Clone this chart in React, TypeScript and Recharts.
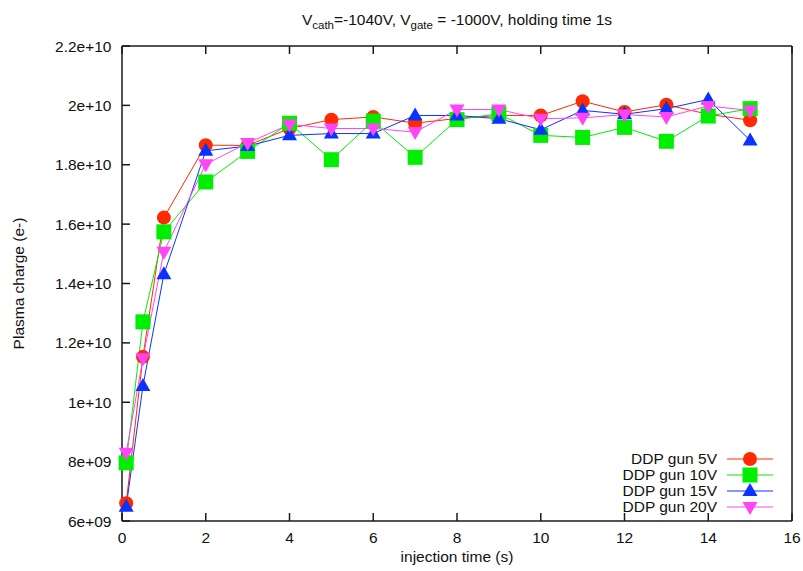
import React from 'react';
import { LineChart, Line, XAxis, YAxis, Legend } from 'recharts';

const times = [0.1, 0.5, 1, 2, 3, 4, 5, 6, 7, 8, 9, 10, 11, 12, 13, 14, 15];
const gun5V = [6.60e9, 1.153e10, 1.622e10, 1.866e10, 1.865e10, 1.922e10, 1.952e10, 1.961e10, 1.940e10, 1.956e10, 1.966e10, 1.966e10, 2.014e10, 1.978e10, 2.002e10, 1.970e10, 1.950e10];
const gun10V = [7.96e9, 1.271e10, 1.574e10, 1.742e10, 1.845e10, 1.940e10, 1.817e10, 1.947e10, 1.825e10, 1.952e10, 1.972e10, 1.899e10, 1.892e10, 1.926e10, 1.879e10, 1.964e10, 1.989e10];
const gun15V = [6.48e9, 1.055e10, 1.431e10, 1.847e10, 1.863e10, 1.899e10, 1.905e10, 1.905e10, 1.966e10, 1.966e10, 1.955e10, 1.918e10, 1.983e10, 1.970e10, 1.989e10, 2.020e10, 1.882e10];
const gun20V = [8.30e9, 1.148e10, 1.507e10, 1.802e10, 1.873e10, 1.936e10, 1.922e10, 1.922e10, 1.910e10, 1.986e10, 1.986e10, 1.955e10, 1.958e10, 1.969e10, 1.961e10, 1.998e10, 1.983e10];

const xTicks = [0, 2, 4, 6, 8, 10, 12, 14, 16];
const yTicks = [6e9, 8e9, 1e10, 1.2e10, 1.4e10, 1.6e10, 1.8e10, 2e10, 2.2e10];
const yTickLabels = ['6e+09', '8e+09', '1e+10', '1.2e+10', '1.4e+10', '1.6e+10', '1.8e+10', '2e+10', '2.2e+10'];

const series = [
  { key: 'g5', name: 'DDP gun 5V', color: '#ff2a00', shape: 'circle', values: gun5V },
  { key: 'g10', name: 'DDP gun 10V', color: '#00ee00', shape: 'square', values: gun10V },
  { key: 'g15', name: 'DDP gun 15V', color: '#0a32ff', shape: 'up', values: gun15V },
  { key: 'g20', name: 'DDP gun 20V', color: '#ff45f5', shape: 'down', values: gun20V },
];

const data = times.map((t, i) => {
  const row: any = { t };
  series.forEach((s) => { row[s.key] = s.values[i]; });
  return row;
});

const FONT = '"Liberation Sans", Arial, Helvetica, sans-serif';
const FS = 15.5;
const AXIS = '#1a1a1a';

function Marker({ shape, color, cx, cy }: any) {
  if (shape === 'circle') return <circle cx={cx} cy={cy} r={7} fill={color} />;
  if (shape === 'square') return <rect x={cx - 7.5} y={cy - 7.5} width={15} height={15} fill={color} />;
  if (shape === 'up')
    return <polygon points={`${cx},${cy - 8} ${cx - 7.5},${cy + 5} ${cx + 7.5},${cy + 5}`} fill={color} />;
  return <polygon points={`${cx},${cy + 8} ${cx - 7.5},${cy - 5} ${cx + 7.5},${cy - 5}`} fill={color} />;
}

const makeDot = (shape: string, color: string) => (props: any) => {
  const { cx, cy, index } = props;
  return <Marker key={`${shape}-${index}`} shape={shape} color={color} cx={cx} cy={cy} />;
};

const NoTick = () => null;

function renderLegend(props: any) {
  const payload = props.payload || [];
  return (
    <div style={{ fontFamily: FONT, fontSize: FS, color: '#111' }}>
      {series.map((s) => {
        const entry = payload.find((p: any) => p.value === s.name);
        const color = entry ? entry.color : s.color;
        return (
          <div key={s.key} style={{ display: 'flex', alignItems: 'center', height: 16 }}>
            <div style={{ width: 164, textAlign: 'right', lineHeight: '16px', whiteSpace: 'nowrap' }}>{s.name}</div>
            <svg width={46} height={16} style={{ marginLeft: 10, overflow: 'visible' }}>
              <line x1={0} y1={8} x2={46} y2={8} stroke={color} strokeWidth={1} />
              <Marker shape={s.shape} color={color} cx={23} cy={8} />
            </svg>
          </div>
        );
      })}
    </div>
  );
}

const XLabel = ({ viewBox }: any) => (
  <text x={viewBox.x + viewBox.width / 2} y={viewBox.y + 41} textAnchor="middle"
    fontFamily={FONT} fontSize={FS} fill="#111">injection time (s)</text>
);

const YLabel = ({ viewBox }: any) => {
  const x = 18;
  const y = viewBox.y + viewBox.height / 2;
  return (
    <text x={x} y={y} transform={`rotate(-90, ${x}, ${y})`} textAnchor="middle" dominantBaseline="central"
      fontFamily={FONT} fontSize={FS} fill="#111">Plasma charge (e-)</text>
  );
};

export default function App() {
  const tickStyle = { fontFamily: FONT, fontSize: FS, fill: '#111' };
  const subStyle = { fontSize: 11.5, lineHeight: 0 };
  return (
    <div style={{ position: 'absolute', left: 0, top: 0, width: 803, height: 571, background: '#fff' }}>
      <div style={{ position: 'absolute', left: 122, top: 11, width: 670, textAlign: 'center', fontFamily: FONT, fontSize: FS, lineHeight: '18px', color: '#111' }}>
        V<sub style={subStyle}>cath</sub>=-1040V, V<sub style={subStyle}>gate</sub> = -1000V, holding time 1s
      </div>
      <LineChart width={803} height={571} data={data} margin={{ top: 45, right: 10, bottom: 0, left: 0 }}>
        <XAxis xAxisId="b" dataKey="t" type="number" domain={[0, 16]} ticks={xTicks} height={50}
          stroke={AXIS} strokeWidth={1.5} tickSize={-8} tickMargin={19} tick={tickStyle}
          label={<XLabel />} />
        <XAxis xAxisId="top" orientation="top" dataKey="t" type="number" domain={[0, 16]} ticks={xTicks} height={1}
          stroke={AXIS} strokeWidth={1.5} tickSize={-8} tick={<NoTick />} />
        <YAxis yAxisId="l" type="number" domain={[6e9, 2.2e10]} ticks={yTicks} width={122}
          stroke={AXIS} strokeWidth={1.5} tickSize={-8} tickMargin={18.5} tick={tickStyle}
          tickFormatter={(v: number) => yTickLabels[yTicks.indexOf(v)] ?? String(v)}
          label={<YLabel />} />
        <YAxis yAxisId="r" orientation="right" type="number" domain={[6e9, 2.2e10]} ticks={yTicks} width={1}
          stroke={AXIS} strokeWidth={1.5} tickSize={-8} tick={<NoTick />} />
        {series.map((s) => (
          <Line key={s.key} xAxisId="b" yAxisId="l" dataKey={s.key} name={s.name} stroke={s.color} strokeWidth={1}
            dot={makeDot(s.shape, s.color)} activeDot={false} isAnimationActive={false} type="linear" />
        ))}
        <Legend content={renderLegend} layout="horizontal" verticalAlign="middle" align="center"
          wrapperStyle={{ left: 553, top: 451, width: 240 }} />
      </LineChart>
    </div>
  );
}
